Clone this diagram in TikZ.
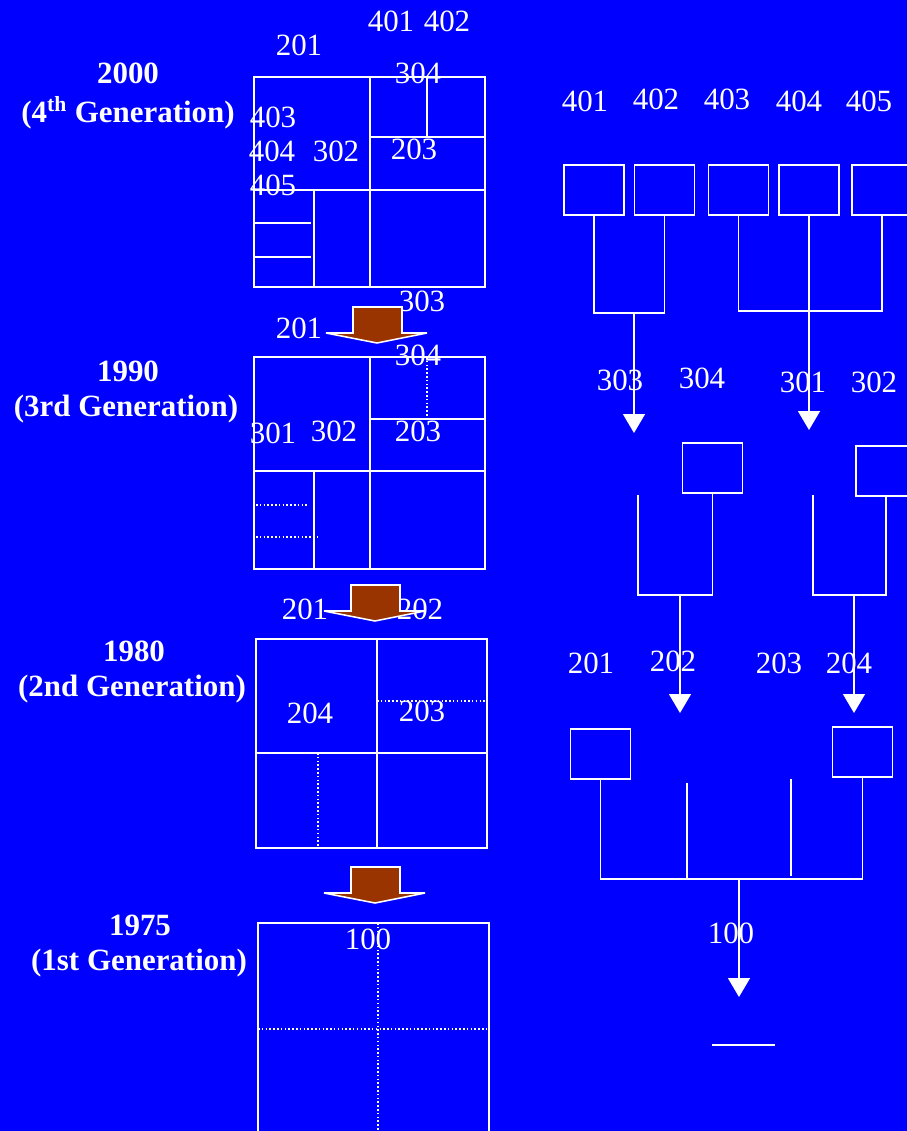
\documentclass[tikz,border=0pt]{standalone}
\usepackage{fontspec}
\setmainfont{Liberation Serif}
\usetikzlibrary{arrows.meta,positioning}
\definecolor{slideblue}{HTML}{0000FF}
\definecolor{arrowbrown}{HTML}{993300}

\begin{document}
\begin{tikzpicture}[x=0.025cm,y=-0.025cm,
    font=\fontsize{22}{26}\selectfont, text=white,
    wire/.style={draw=white,line width=1.1pt},
    dots/.style={draw=white,line width=1.1pt,dash pattern=on 1.1pt off 1.6pt},
    slot/.style={draw=white,line width=1.1pt,minimum width=1.5cm,minimum height=1.25cm,inner sep=0pt},
    flow/.style={draw=white,line width=1.1pt,-{Triangle[width=0.55cm,length=0.475cm]}},
    gen/.style={font=\fontsize{22}{26}\selectfont\bfseries},
    num/.style={inner sep=0pt}]
    \fill[slideblue] (0,0) rectangle (907,1131);
    \useasboundingbox (0,0) rectangle (907,1131);

    % generation titles
    \node[gen] (y2000) at (128,73) {2000};
    \node[gen] (g4) at (128,113) {(4\textsuperscript{th} Generation)};
    \node[gen] (y1990) at (128,371) {1990};
    \node[gen] (g3) at (126,409) {(3rd Generation)};
    \node[gen] (y1980) at (134,651) {1980};
    \node[gen] (g2) at (132,689) {(2nd Generation)};
    \node[gen] (y1975) at (140,925) {1975};
    \node[gen] (g1) at (139,963) {(1st Generation)};

    % 2000 layout
    \draw[wire] (254,77) rectangle (485,287);
    \draw[wire] (370,77) -- (370,287) (254,190) -- (485,190) (370,137) -- (485,137)
        (427,77) -- (427,137) (314,190) -- (314,287) (254,223) -- (311,223) (254,257) -- (311,257);
    \foreach \t/\x/\y in {201/299/45,304/418/73,403/273/117,404/272/151,302/336/151,203/414/149,405/273/185,303/422/301}
        \node[num] (d\t) at (\x,\y) {\t};
    \node[num] (d401) at (391,21) {401};
    \node[num] (d402) at (447,21) {402};

    % 1990 layout
    \draw[wire] (254,357) rectangle (485,569);
    \draw[wire] (370,357) -- (370,569) (254,471) -- (485,471) (370,419) -- (485,419) (314,471) -- (314,569);
    \draw[dots] (427,357) -- (427,419) (256,505) -- (308,505) (256,537) -- (319,537);
    \foreach \t/\x/\y in {201/299/328,304/418/355,301/273/433,302/334/431,203/418/431}
        \node[num] (c\t) at (\x,\y) {\t};

    % 1980 layout
    \draw[wire] (256,639) rectangle (487,848);
    \draw[wire] (377,639) -- (377,848) (256,753) -- (487,753);
    \draw[dots] (377,701) -- (487,701) (318,753) -- (318,848);
    \foreach \t/\x/\y in {201/305/609,202/420/609,204/310/713,203/422/711}
        \node[num] (b\t) at (\x,\y) {\t};

    % 1975 layout
    \draw[wire] (258,923) rectangle (489,1140);
    \draw[dots] (378,923) -- (378,1131) (258,1029) -- (489,1029);
    \node[num] (a100) at (368,939) {100};

    % brown arrows between generations
    \foreach \x/\y in {353/307,351/585,351/867}
        \filldraw[fill=arrowbrown,draw=white,line width=1.1pt]
            (\x,\y+26) -- (\x,\y) -- (\x+49,\y) -- (\x+49,\y+26) -- (\x+74,\y+26)
            -- (\x+24,\y+36) -- (\x-27,\y+26) -- cycle;

    % tree: 4th generation
    \foreach \t/\x/\y in {401/585/101,402/656/99,403/727/99,404/799/101,405/869/101}
        \node[num] (t\t) at (\x,\y) {\t};
    \node[slot] (m401) at (594,190) {};
    \node[slot] (m402) at (664.5,190) {};
    \node[slot] (m403) at (738.5,190) {};
    \node[slot] (m404) at (809,190) {};
    \node[slot] (m405) at (882,190) {};
    \coordinate (j4a) at (634,313);
    \coordinate (j4b) at (809,311);
    \coordinate (e303) at (634,433);
    \coordinate (e301) at (809,430);
    \draw[wire] (m401.south) |- (j4a) -| (m402.south);
    \draw[wire] (m403.south) |- (j4b) -| (m405.south);
    \draw[wire] (m404.south) -- (j4b);
    \draw[flow] (j4a) -- (e303);
    \draw[flow] (j4b) -- (e301);

    % tree: 3rd generation
    \foreach \t/\x/\y in {303/620/380,304/702/378,301/803/382,302/874/382}
        \node[num] (t\t) at (\x,\y) {\t};
    \node[slot] (m304) at (712.5,468) {};
    \node[slot] (m302) at (886,471) {};
    \coordinate (s303) at (638,495);
    \coordinate (s301) at (813,495);
    \coordinate (j3a) at (680,595);
    \coordinate (j3b) at (854,595);
    \coordinate (e202) at (680,713);
    \coordinate (e204) at (854,713);
    \draw[wire] (s303) |- (j3a) -| (m304.south);
    \draw[wire] (s301) |- (j3b) -| (m302.south);
    \draw[flow] (j3a) -- (e202);
    \draw[flow] (j3b) -- (e204);

    % tree: 2nd generation
    \foreach \t/\x/\y in {201/591/663,202/673/661,203/779/663,204/849/663}
        \node[num] (t\t) at (\x,\y) {\t};
    \node[slot] (m201) at (600.5,754) {};
    \node[slot] (m204) at (862.5,752) {};
    \coordinate (j2) at (739,879);
    \coordinate (s202) at (687,783);
    \coordinate (s203) at (791,779);
    \coordinate (f203) at (791,876);
    \coordinate (e100) at (739,997);
    \draw[wire] (m201.south) |- (j2) -| (m204.south);
    \draw[wire] (s202) -- (s202 |- j2);
    \draw[wire] (s203) -- (f203);
    \draw[flow] (j2) -- (e100);

    % tree: 1st generation
    \node[num] (t100) at (731,933) {100};
    \coordinate (r1) at (712,1045);
    \coordinate (r2) at (775,1045);
    \draw[wire] (r1) -- (r2);
\end{tikzpicture}
\end{document}
